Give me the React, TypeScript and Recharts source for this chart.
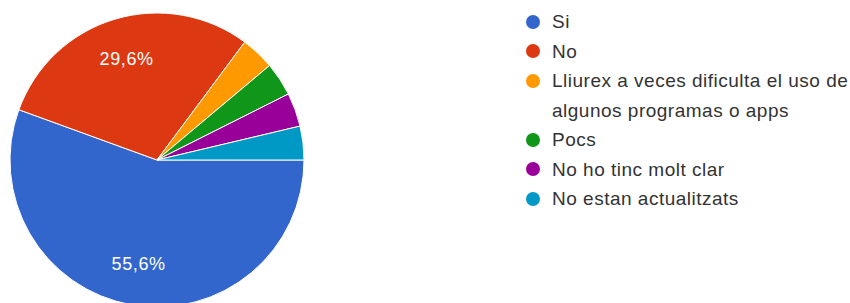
import React from 'react';
import { PieChart, Pie, Cell, Legend } from 'recharts';

const categories = [
  'Si',
  'No',
  'Lliurex a veces dificulta el uso de algunos programas o apps',
  'Pocs',
  'No ho tinc molt clar',
  'No estan actualitzats',
];
const responses = [15, 8, 1, 1, 1, 1];
const COLORS = ['#3366cc', '#dc3912', '#ff9900', '#109618', '#990099', '#0099c6'];

const data = categories.map((name, i) => ({ name, value: responses[i] }));

const RAD = Math.PI / 180;
const FONT = '"Liberation Sans", Arial, sans-serif';

// only the big slices get a percent label, like the forms summary does
function renderLabel(props: any) {
  const { cx, cy, midAngle, outerRadius, percent } = props;
  if (percent < 0.1) return null;
  const r = outerRadius * 0.72;
  const x = cx + r * Math.cos(-midAngle * RAD);
  const y = cy + r * Math.sin(-midAngle * RAD);
  return (
    <text x={x} y={y} fill="#ffffff" textAnchor="middle" dominantBaseline="central"
      fontSize={18} fontFamily={FONT} letterSpacing={0.6}>
      {(percent * 100).toFixed(1).replace('.', ',')}%
    </text>
  );
}

// keep the legend in the same order as the slices (recharts sorts it otherwise)
function LegendList() {
  return (
    <div style={{ fontFamily: FONT, fontSize: 19, letterSpacing: 0.5, color: '#333333', lineHeight: '29.5px' }}>
      {categories.map((name, idx) => (
        <div key={idx} style={{ display: 'flex', alignItems: 'flex-start' }}>
          <span style={{
            display: 'inline-block', width: 14, height: 14, borderRadius: 7, flex: 'none',
            background: COLORS[idx % COLORS.length], marginTop: 7.75, marginRight: 12,
          }} />
          <span style={{ width: 300 }}>{name}</span>
        </div>
      ))}
    </div>
  );
}

export default function App() {
  return (
    <div style={{ position: 'absolute', left: 0, top: 0, width: 850, height: 303, background: '#fff' }}>
      <PieChart width={850} height={303} margin={{ top: 0, right: 0, bottom: 0, left: 0 }}>
        <Pie
          data={data}
          dataKey="value"
          nameKey="name"
          cx={157}
          cy={160}
          outerRadius={147}
          startAngle={0}
          endAngle={-360}
          stroke="#ffffff"
          strokeWidth={1}
          labelLine={false}
          label={renderLabel}
          isAnimationActive={false}
        >
          {data.map((entry, index) => (
            <Cell key={`cell-${index}`} fill={COLORS[index % COLORS.length]} />
          ))}
        </Pie>
        <Legend
          layout="vertical"
          content={<LegendList />}
          wrapperStyle={{ position: 'absolute', left: 526, top: 7, width: 324 }}
        />
      </PieChart>
    </div>
  );
}
